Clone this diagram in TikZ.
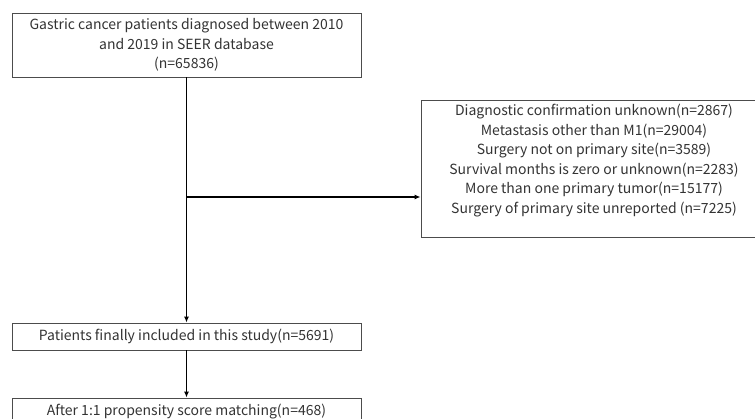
\documentclass[tikz,border=0pt]{standalone}
\usepackage{fontspec}
\setmainfont{Noto Sans CJK SC}
\usepackage{tikz}
\usetikzlibrary{arrows.meta}

\begin{document}
\begin{tikzpicture}[x=1pt, y=-1pt, every node/.style={font=\fontsize{14}{19.5}\selectfont, text=black!80}]
\tikzstyle{box}=[draw=black!70, line width=0.8pt, minimum width=349pt, align=center, inner sep=0pt]
\tikzstyle{flow}=[line width=1.3pt, -{Latex[length=6pt, width=5pt]}]
\useasboundingbox (0,0) rectangle (755,419);
\clip (0,0) rectangle (755,419);
\node[box, minimum height=64pt] (seer) at (186.5,45) {Gastric cancer patients diagnosed between 2010\\and 2019 in SEER database\\(n=65836)};
\node[box, minimum width=346pt, minimum height=137pt] (excl) at (594,168.5) {Diagnostic confirmation unknown(n=2867)\\Metastasis other than M1(n=29004)\\Surgery not on primary site(n=3589)\\Survival months is zero or unknown(n=2283)\\More than one primary tumor(n=15177)\\Surgery of primary site unreported (n=7225)\\\mbox{}};
\node[box, minimum height=27pt] (incl) at (186.5,336.5) {Patients finally included in this study(n=5691)};
\node[box, minimum height=27pt] (psm) at (186.5,411.5) {After 1:1 propensity score matching(n=468)};
\coordinate (split) at (seer.south |- 0,197);
\draw[flow] (seer.south) -- (incl.north);
\draw[flow] (split) -- (excl.west |- split);
\draw[flow] (incl.south) -- (psm.north);
\end{tikzpicture}
\end{document}
